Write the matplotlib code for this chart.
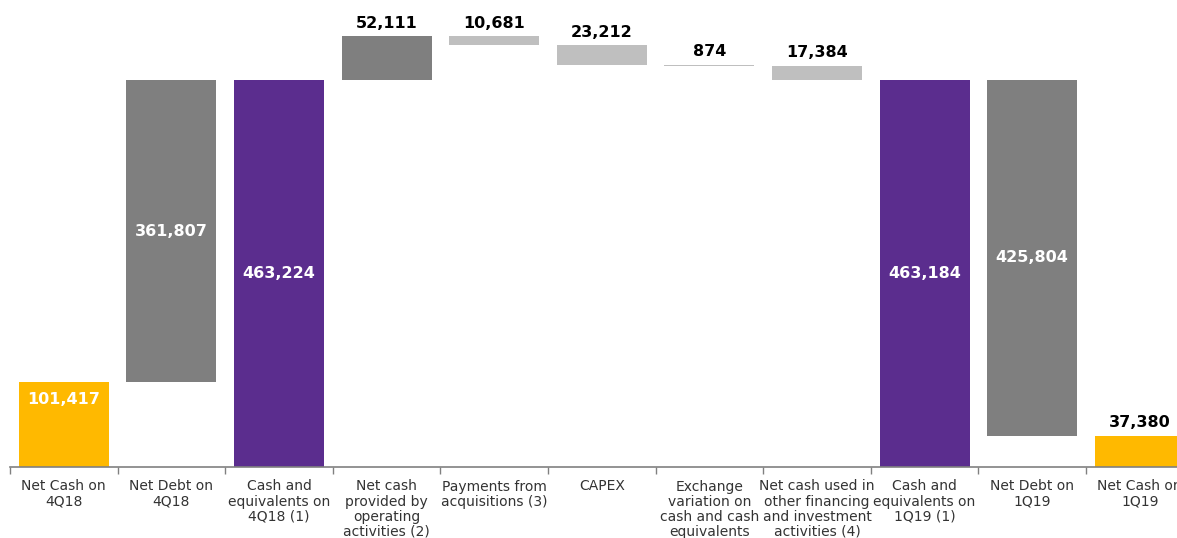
import numpy as np
import matplotlib
matplotlib.use("Agg")
import matplotlib.pyplot as plt

# waterfall data (R$ thousand)
categories = [
    "Net Cash on\n4Q18",
    "Net Debt on\n4Q18",
    "Cash and\nequivalents on\n4Q18 (1)",
    "Net cash\nprovided by\noperating\nactivities (2)",
    "Payments from\nacquisitions (3)",
    "CAPEX",
    "Exchange\nvariation on\ncash and cash\nequivalents",
    "Net cash used in\nother financing\nand investment\nactivities (4)",
    "Cash and\nequivalents on\n1Q19 (1)",
    "Net Debt on\n1Q19",
    "Net Cash on\n1Q19",
]
values = [101417, 361807, 463224, 52111, 10681, 23212, 874, 17384, 463184, 425804, 37380]
kinds = ["total", "up", "total", "up", "down", "down", "down", "down", "total", "down", "total"]

YELLOW = "#FFB900"
GRAY = "#7F7F7F"
LIGHT = "#BFBFBF"
PURPLE = "#5B2D8E"
colors = [YELLOW, GRAY, PURPLE, GRAY, LIGHT, LIGHT, LIGHT, LIGHT, PURPLE, GRAY, YELLOW]

# running level -> bottoms
bottoms = []
level = 0
for v, k in zip(values, kinds):
    if k == "total":
        bottoms.append(0)
        level = v
    elif k == "up":
        bottoms.append(level)
        level += v
    else:
        level -= v
        bottoms.append(level)

fig = plt.figure(figsize=(11.77, 5.38), dpi=100)
ax = fig.add_axes([10 / 1177, 71 / 538, 11 * 107.6 / 1177, 467 / 538])

x = np.arange(len(values))
bars = ax.bar(x, values, bottom=bottoms, width=0.835, color=colors, linewidth=0)

for i, (b, v, bt) in enumerate(zip(bars, values, bottoms)):
    label = f"{v:,}"
    cx = b.get_x() + b.get_width() / 2
    if v > 200000:
        ax.text(cx, bt + v / 2, label, ha="center", va="center",
                color="white", fontsize=11.5, fontweight="bold")
    elif kinds[i] == "total" and v > 80000:
        ax.annotate(label, (cx, bt + v), xytext=(0, -7), textcoords="offset points",
                    ha="center", va="top", color="white", fontsize=11.5, fontweight="bold")
    else:
        ax.annotate(label, (cx, bt + v), xytext=(0, 4), textcoords="offset points",
                    ha="center", va="bottom", color="black", fontsize=11.5, fontweight="bold")

ax.set_xlim(-0.5, len(values) - 0.5)
ax.set_ylim(0, 559000)

ax.set_xticks(x)
ax.set_xticklabels(categories, fontsize=10, color="#333333", linespacing=1.1)
ax.tick_params(axis="x", which="major", length=0, pad=9)
ax.set_xticks(np.arange(-0.5, len(values)), minor=True)
ax.tick_params(axis="x", which="minor", length=5, width=1, color="#808080")
ax.set_yticks([])

for s in ["top", "right", "left"]:
    ax.spines[s].set_visible(False)
ax.spines["bottom"].set_color("#808080")
ax.spines["bottom"].set_linewidth(1.2)

fig.savefig("out.png", dpi=100)
